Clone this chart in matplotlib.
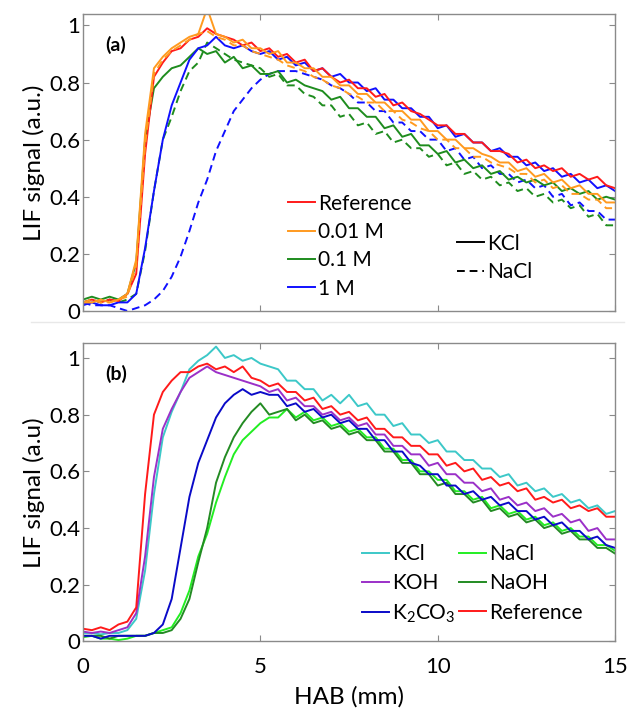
import matplotlib
matplotlib.use("Agg")
import matplotlib.pyplot as plt
from matplotlib.lines import Line2D
from matplotlib.ticker import FuncFormatter

plt.rcParams['font.family'] = ['Lato', 'DejaVu Sans']
plt.rcParams['mathtext.default'] = 'regular'

# HAB positions (mm), shared by every trace
hab = [0.0, 0.25, 0.5, 0.75, 1.0, 1.25, 1.5, 1.75, 2.0, 2.25,
       2.5, 2.75, 3.0, 3.25, 3.5, 3.75, 4.0, 4.25, 4.5, 4.75,
       5.0, 5.25, 5.5, 5.75, 6.0, 6.25, 6.5, 6.75, 7.0, 7.25,
       7.5, 7.75, 8.0, 8.25, 8.5, 8.75, 9.0, 9.25, 9.5, 9.75,
       10.0, 10.25, 10.5, 10.75, 11.0, 11.25, 11.5, 11.75, 12.0, 12.25,
       12.5, 12.75, 13.0, 13.25, 13.5, 13.75, 14.0, 14.25, 14.5, 14.75,
       15.0]

# ---- panel (a): concentration series ----
ref_a = [0.03, 0.04, 0.03, 0.04, 0.035, 0.06, 0.13, 0.55, 0.82, 0.87,
         0.91, 0.92, 0.95, 0.96, 0.99, 0.97, 0.96, 0.95, 0.93, 0.94,
         0.91, 0.92, 0.89, 0.90, 0.87, 0.88, 0.84, 0.85, 0.82, 0.80,
         0.81, 0.78, 0.78, 0.75, 0.76, 0.72, 0.73, 0.70, 0.69, 0.67,
         0.65, 0.65, 0.62, 0.62, 0.59, 0.59, 0.56, 0.56, 0.55, 0.52,
         0.53, 0.50, 0.51, 0.49, 0.50, 0.47, 0.48, 0.46, 0.47, 0.44,
         0.43]
kcl_001 = [0.03, 0.03, 0.04, 0.03, 0.04, 0.06, 0.18, 0.62, 0.85, 0.89,
           0.92, 0.94, 0.96, 0.97, 1.06, 0.97, 0.96, 0.94, 0.95, 0.92,
           0.92, 0.90, 0.91, 0.87, 0.87, 0.85, 0.85, 0.82, 0.82, 0.79,
           0.79, 0.76, 0.76, 0.73, 0.73, 0.70, 0.70, 0.67, 0.67, 0.63,
           0.63, 0.60, 0.60, 0.57, 0.57, 0.55, 0.54, 0.52, 0.52, 0.49,
           0.50, 0.47, 0.48, 0.45, 0.46, 0.43, 0.44, 0.41, 0.41, 0.38,
           0.38]
nacl_001 = [0.03, 0.04, 0.03, 0.03, 0.04, 0.05, 0.16, 0.58, 0.83, 0.88,
            0.91, 0.93, 0.95, 0.97, 0.98, 0.96, 0.95, 0.93, 0.93, 0.91,
            0.90, 0.89, 0.88, 0.86, 0.85, 0.84, 0.82, 0.81, 0.79, 0.78,
            0.76, 0.75, 0.73, 0.73, 0.70, 0.70, 0.67, 0.66, 0.64, 0.63,
            0.60, 0.60, 0.57, 0.57, 0.54, 0.54, 0.52, 0.51, 0.50, 0.48,
            0.48, 0.45, 0.46, 0.43, 0.44, 0.41, 0.41, 0.39, 0.39, 0.36,
            0.36]
kcl_01 = [0.04, 0.05, 0.04, 0.05, 0.04, 0.06, 0.17, 0.60, 0.78, 0.82,
          0.85, 0.86, 0.89, 0.92, 0.90, 0.91, 0.87, 0.89, 0.85, 0.86,
          0.83, 0.83, 0.84, 0.80, 0.81, 0.79, 0.78, 0.77, 0.74, 0.75,
          0.71, 0.71, 0.68, 0.68, 0.64, 0.65, 0.61, 0.62, 0.58, 0.58,
          0.55, 0.56, 0.52, 0.53, 0.50, 0.51, 0.48, 0.49, 0.46, 0.47,
          0.45, 0.46, 0.44, 0.45, 0.42, 0.43, 0.41, 0.42, 0.39, 0.40,
          0.39]
nacl_01 = [0.03, 0.04, 0.03, 0.04, 0.03, 0.04, 0.06, 0.21, 0.42, 0.60,
           0.68, 0.77, 0.84, 0.87, 0.94, 0.92, 0.90, 0.88, 0.87, 0.86,
           0.85, 0.82, 0.83, 0.79, 0.79, 0.76, 0.75, 0.72, 0.72, 0.68,
           0.69, 0.65, 0.66, 0.62, 0.63, 0.59, 0.60, 0.57, 0.57, 0.54,
           0.55, 0.51, 0.52, 0.48, 0.49, 0.46, 0.47, 0.44, 0.45, 0.42,
           0.43, 0.40, 0.41, 0.38, 0.39, 0.36, 0.37, 0.33, 0.34, 0.30,
           0.30]
kcl_1 = [0.02, 0.03, 0.02, 0.02, 0.03, 0.03, 0.06, 0.22, 0.42, 0.60,
         0.72, 0.80, 0.88, 0.92, 0.93, 0.96, 0.93, 0.92, 0.93, 0.91,
         0.90, 0.91, 0.88, 0.89, 0.86, 0.87, 0.84, 0.85, 0.82, 0.83,
         0.80, 0.80, 0.77, 0.78, 0.74, 0.74, 0.71, 0.71, 0.68, 0.68,
         0.64, 0.65, 0.61, 0.62, 0.59, 0.59, 0.56, 0.57, 0.54, 0.54,
         0.51, 0.52, 0.49, 0.50, 0.47, 0.48, 0.45, 0.46, 0.43, 0.44,
         0.42]
nacl_1 = [0.03, 0.02, 0.02, 0.02, 0.01, 0.00, 0.01, 0.02, 0.04, 0.07,
          0.12, 0.19, 0.28, 0.38, 0.46, 0.56, 0.63, 0.70, 0.74, 0.78,
          0.81, 0.83, 0.84, 0.84, 0.84, 0.83, 0.82, 0.81, 0.79, 0.78,
          0.76, 0.73, 0.73, 0.70, 0.70, 0.66, 0.66, 0.63, 0.63, 0.60,
          0.60, 0.56, 0.57, 0.53, 0.54, 0.50, 0.51, 0.48, 0.48, 0.45,
          0.46, 0.43, 0.44, 0.40, 0.41, 0.37, 0.38, 0.35, 0.35, 0.32,
          0.32]

# ---- panel (b): salt series ----
ref_b = [0.045, 0.04, 0.05, 0.04, 0.06, 0.07, 0.12, 0.52, 0.80, 0.88,
         0.92, 0.95, 0.95, 0.97, 0.98, 0.96, 0.97, 0.95, 0.97, 0.93,
         0.92, 0.90, 0.91, 0.88, 0.88, 0.85, 0.86, 0.82, 0.83, 0.80,
         0.81, 0.78, 0.79, 0.75, 0.75, 0.72, 0.72, 0.69, 0.69, 0.66,
         0.66, 0.62, 0.63, 0.60, 0.61, 0.57, 0.58, 0.55, 0.56, 0.53,
         0.54, 0.50, 0.51, 0.49, 0.50, 0.47, 0.48, 0.46, 0.47, 0.44,
         0.44]
koh = [0.035, 0.03, 0.035, 0.03, 0.04, 0.05, 0.10, 0.30, 0.58, 0.75,
       0.82, 0.88, 0.93, 0.95, 0.97, 0.95, 0.94, 0.93, 0.92, 0.91,
       0.90, 0.88, 0.89, 0.85, 0.86, 0.83, 0.83, 0.80, 0.81, 0.78,
       0.79, 0.76, 0.77, 0.73, 0.73, 0.69, 0.69, 0.66, 0.66, 0.62,
       0.63, 0.59, 0.59, 0.56, 0.56, 0.53, 0.54, 0.50, 0.51, 0.48,
       0.49, 0.46, 0.47, 0.44, 0.45, 0.42, 0.43, 0.39, 0.40, 0.36,
       0.36]
kcl = [0.03, 0.03, 0.025, 0.03, 0.03, 0.04, 0.08, 0.25, 0.52, 0.72,
       0.81, 0.88, 0.96, 0.99, 1.01, 1.04, 1.00, 1.01, 0.99, 1.00,
       0.98, 0.97, 0.96, 0.92, 0.92, 0.89, 0.89, 0.85, 0.87, 0.84,
       0.87, 0.83, 0.84, 0.80, 0.80, 0.76, 0.77, 0.73, 0.73, 0.70,
       0.71, 0.67, 0.67, 0.64, 0.64, 0.61, 0.61, 0.58, 0.59, 0.55,
       0.56, 0.53, 0.54, 0.51, 0.52, 0.49, 0.50, 0.47, 0.48, 0.45,
       0.46]
k2co3 = [0.02, 0.02, 0.01, 0.02, 0.02, 0.02, 0.02, 0.02, 0.03, 0.06,
         0.15, 0.33, 0.51, 0.63, 0.71, 0.79, 0.84, 0.87, 0.89, 0.87,
         0.88, 0.87, 0.87, 0.83, 0.84, 0.81, 0.82, 0.79, 0.80, 0.77,
         0.78, 0.75, 0.75, 0.71, 0.71, 0.67, 0.67, 0.63, 0.62, 0.59,
         0.59, 0.55, 0.55, 0.52, 0.53, 0.50, 0.51, 0.48, 0.49, 0.46,
         0.46, 0.43, 0.44, 0.41, 0.42, 0.39, 0.39, 0.36, 0.37, 0.34,
         0.33]
naoh = [0.02, 0.02, 0.02, 0.01, 0.02, 0.02, 0.02, 0.02, 0.03, 0.03,
        0.04, 0.08, 0.15, 0.28, 0.40, 0.56, 0.65, 0.72, 0.77, 0.81,
        0.84, 0.80, 0.81, 0.82, 0.78, 0.80, 0.77, 0.78, 0.75, 0.76,
        0.73, 0.74, 0.71, 0.71, 0.67, 0.67, 0.63, 0.63, 0.59, 0.59,
        0.55, 0.56, 0.52, 0.52, 0.49, 0.50, 0.46, 0.47, 0.44, 0.45,
        0.42, 0.43, 0.40, 0.41, 0.38, 0.39, 0.36, 0.36, 0.33, 0.33,
        0.31]
nacl = [0.015, 0.02, 0.01, 0.01, 0.005, 0.01, 0.02, 0.02, 0.03, 0.04,
        0.05, 0.10, 0.18, 0.30, 0.38, 0.49, 0.58, 0.66, 0.71, 0.74,
        0.77, 0.79, 0.79, 0.82, 0.79, 0.81, 0.78, 0.79, 0.76, 0.77,
        0.74, 0.75, 0.72, 0.72, 0.68, 0.68, 0.64, 0.64, 0.60, 0.60,
        0.57, 0.57, 0.53, 0.53, 0.50, 0.51, 0.47, 0.48, 0.45, 0.46,
        0.43, 0.44, 0.41, 0.42, 0.39, 0.40, 0.37, 0.37, 0.34, 0.34,
        0.32]

C_RED = '#ff1a1a'
C_ORANGE = '#ff9a1f'
C_GREEN = '#1e8c1e'
C_BLUE = '#1010ff'
C_CYAN = '#3cc8c8'
C_PURPLE = '#9b30c8'
C_DBLUE = '#0a0ac8'
C_LIME = '#22ee22'
C_DGREEN = '#238b23'
FRAME = '#8a8a8a'
LW = 1.4
DASH = (4, 2.5)
TICK_FS = 16
LABEL_FS = 17.5
LEG_FS = 15


def style_axes(ax, ytop):
    ax.set_xlim(0, 15)
    ax.set_ylim(0, ytop)
    ax.set_xticks([0, 5, 10, 15])
    ax.set_yticks([0, 0.2, 0.4, 0.6, 0.8, 1.0])
    ax.yaxis.set_major_formatter(FuncFormatter(lambda v, p: f'{v:g}'))
    ax.tick_params(direction='in', top=True, right=True, length=4,
                   width=0.8, color=FRAME, labelsize=TICK_FS)
    ax.tick_params(axis='y', pad=2)
    ax.tick_params(axis='x', pad=11)
    for s in ax.spines.values():
        s.set_color(FRAME)
        s.set_linewidth(1.0)


fig = plt.figure(figsize=(6.27, 7.1), dpi=100)

# ---------- (a) ----------
ax1 = fig.add_axes([0.1324, 0.5620, 0.8486, 0.4183])
ax1.plot(hab, nacl_1, color=C_BLUE, lw=LW, dashes=DASH)
ax1.plot(hab, nacl_01, color=C_GREEN, lw=LW, dashes=DASH)
ax1.plot(hab, kcl_01, color=C_GREEN, lw=LW)
ax1.plot(hab, kcl_1, color=C_BLUE, lw=LW)
ax1.plot(hab, ref_a, color=C_RED, lw=LW)
ax1.plot(hab, kcl_001, color=C_ORANGE, lw=LW)
ax1.plot(hab, nacl_001, color=C_ORANGE, lw=LW, dashes=DASH)
style_axes(ax1, 1.04)
ax1.set_xticklabels([])
ax1.set_ylabel('LIF signal (a.u.)', fontsize=LABEL_FS, labelpad=3)
ax1.text(0.041, 0.895, '(a)', transform=ax1.transAxes, fontsize=14,
         fontweight='bold', va='center')

conc_handles = [Line2D([], [], color=c, lw=LW)
                for c in (C_RED, C_ORANGE, C_GREEN, C_BLUE)]
leg1 = ax1.legend(conc_handles, ['Reference', '0.01 M', '0.1 M', '1 M'],
                  loc='upper left', bbox_to_anchor=(0.385, 0.395),
                  frameon=False, fontsize=LEG_FS, handlelength=1.3,
                  handletextpad=0.15, labelspacing=0.4, borderpad=0,
                  borderaxespad=0)
ax1.add_artist(leg1)
salt_handles = [Line2D([], [], color='k', lw=LW),
                Line2D([], [], color='k', lw=LW, dashes=DASH)]
ax1.legend(salt_handles, ['KCl', 'NaCl'], loc='upper left',
           bbox_to_anchor=(0.703, 0.26), frameon=False, fontsize=LEG_FS,
           handlelength=1.3, handletextpad=0.15, labelspacing=0.4,
           borderpad=0, borderaxespad=0)

# ---------- (b) ----------
ax2 = fig.add_axes([0.1324, 0.0965, 0.8486, 0.4205])
h_kcl, = ax2.plot(hab, kcl, color=C_CYAN, lw=LW)
h_koh, = ax2.plot(hab, koh, color=C_PURPLE, lw=LW)
h_nacl, = ax2.plot(hab, nacl, color=C_LIME, lw=LW)
h_naoh, = ax2.plot(hab, naoh, color=C_DGREEN, lw=LW)
h_k2co3, = ax2.plot(hab, k2co3, color=C_DBLUE, lw=LW)
h_ref, = ax2.plot(hab, ref_b, color=C_RED, lw=LW)
style_axes(ax2, 1.053)
ax2.set_ylabel('LIF signal (a.u)', fontsize=LABEL_FS, labelpad=3)
ax2.set_xlabel('HAB (mm)', fontsize=LABEL_FS, labelpad=7)
ax2.text(0.041, 0.895, '(b)', transform=ax2.transAxes, fontsize=14,
         fontweight='bold', va='center')
ax2.legend([h_kcl, h_koh, h_k2co3, h_nacl, h_naoh, h_ref],
           ['KCl', 'KOH', 'K$_2$CO$_3$', 'NaCl', 'NaOH', 'Reference'],
           ncol=2, loc='upper left', bbox_to_anchor=(0.524, 0.327),
           frameon=False, fontsize=LEG_FS, handlelength=1.3,
           handletextpad=0.15, labelspacing=0.45, columnspacing=0.15,
           borderpad=0, borderaxespad=0)

# faint separator between the two panels
fig.add_artist(Line2D([0.05, 0.995], [0.546, 0.546], color='#e8e8e8', lw=1.0))

fig.savefig('out.png', dpi=100)
